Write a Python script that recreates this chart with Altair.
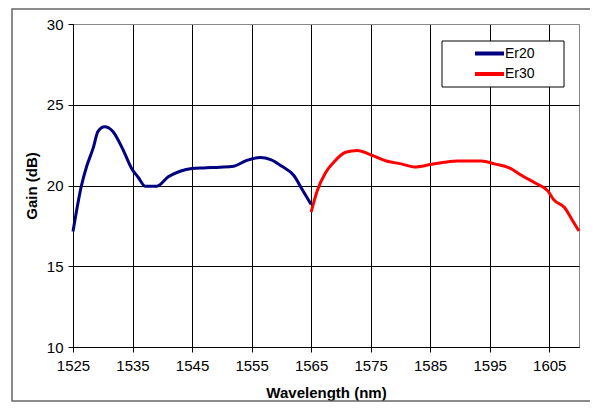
import altair as alt
import pandas as pd

# Er20 series
er20_wl = [1525, 1526.4, 1527.3, 1528.4, 1529.2, 1530.3, 1531.7, 1533.4, 1534.8, 1536.0,
           1537.1, 1539.1, 1541.0, 1543.0, 1545.0, 1546.9, 1549.7, 1552.0, 1554.2, 1556.5,
           1558.2, 1560.1, 1562.1, 1563.5, 1565.0]
er20_gain = [17.15, 19.96, 21.19, 22.33, 23.35, 23.64, 23.35, 22.22, 21.09, 20.48,
             19.96, 19.96, 20.54, 20.88, 21.05, 21.09, 21.13, 21.19, 21.56, 21.73,
             21.6, 21.19, 20.62, 19.75, 18.83]

# Er30 series
er30_wl = [1565.0, 1566.0, 1567.4, 1568.8, 1570.8, 1572.8, 1575.0, 1577.8, 1580.1, 1582.3,
           1585.1, 1587.4, 1589.6, 1593.6, 1595.8, 1598.3, 1600.6, 1602.8, 1604.8, 1605.7,
           1607.6, 1608.8, 1610.0]
er30_gain = [18.35, 19.65, 20.78, 21.44, 22.06, 22.16, 21.9, 21.5, 21.34, 21.15,
             21.3, 21.44, 21.52, 21.52, 21.34, 21.09, 20.57, 20.12, 19.65, 19.14,
             18.62, 17.9, 17.18]

series = ["Er20", "Er30"]
colors = ["#000080", "#FF0000"]
x_ticks = [1525, 1535, 1545, 1555, 1565, 1575, 1585, 1595, 1605]
y_ticks = [10, 15, 20, 25, 30]

df = pd.concat([
    pd.DataFrame({"wl": er20_wl, "gain": er20_gain, "series": "Er20"}),
    pd.DataFrame({"wl": er30_wl, "gain": er30_gain, "series": "Er30"}),
])

FONT = "Liberation Sans"
W, H = 506, 323

lines = alt.Chart(df).mark_line(strokeWidth=3, interpolate="monotone").encode(
    x=alt.X("wl:Q", scale=alt.Scale(domain=[1525, 1610], nice=False, zero=False),
            axis=alt.Axis(values=x_ticks, title="Wavelength (nm)", format="d",
                          labelFlush=False, titleY=45, titleBaseline="middle")),
    y=alt.Y("gain:Q", scale=alt.Scale(domain=[10, 30], nice=False, zero=False),
            axis=alt.Axis(values=y_ticks, title="Gain (dB)", labelFlush=False,
                          titleX=-42, titleBaseline="middle",
                          gridColor=alt.condition("datum.value == 30",
                                                  alt.value("#888888"),
                                                  alt.value("#000000")))),
    color=alt.Color("series:N", scale=alt.Scale(domain=series, range=colors),
                    legend=alt.Legend(title=None, orient="none", legendX=407, legendY=20,
                                      symbolType="M-2,0H2", symbolStrokeWidth=4,
                                      symbolSize=210, labelFontSize=14, labelFont=FONT,
                                      labelOffset=6, rowPadding=2.5, padding=0)),
    detail="series:N",
)

legend_box = alt.Chart(alt.Data(values=[{"k": 1}])).mark_rect(
    fill="white", stroke="black", strokeWidth=1
).encode(x=alt.value(369), x2=alt.value(491), y=alt.value(17), y2=alt.value(63))

outer = alt.Chart(alt.Data(values=[{"k": 1}])).mark_rect(
    fill=None, stroke="#666666", strokeWidth=1.5
).encode(x=alt.value(-61), x2=alt.value(540), y=alt.value(-15), y2=alt.value(377))

chart = alt.layer(outer, legend_box, lines).properties(
    width=W, height=H,
    autosize=alt.AutoSizeParams(type="none"),
    padding={"left": 65, "top": 16, "right": 11, "bottom": 55},
).configure_view(
    stroke="#888888", strokeWidth=1
).configure_axis(
    labelFont=FONT, titleFont=FONT, labelFontSize=15, titleFontSize=15,
    titleFontWeight="bold", labelColor="#000000", titleColor="#000000",
    domainColor="#000000", tickColor="#000000", tickSize=5, labelPadding=5,
    gridColor="#000000", gridOpacity=1, gridWidth=1, domainWidth=1, tickWidth=1,
).configure_axisX(labelPadding=6)

chart.save("out.html", embed_options={"renderer": "svg", "actions": False})
